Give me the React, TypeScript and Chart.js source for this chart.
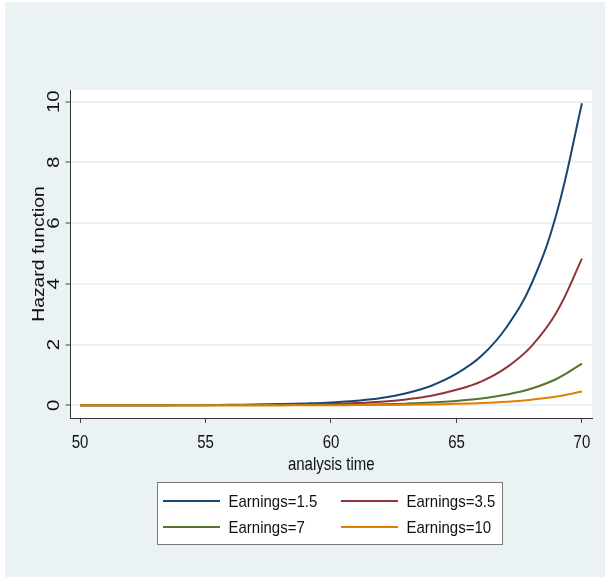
import React, { useEffect, useRef } from "react";
import { Chart, registerables } from "chart.js";

Chart.register(...registerables);

// ---- data ----
const years = [50, 51, 52, 53, 54, 55, 56, 57, 58, 59, 60, 61, 62, 63, 64, 65, 66, 67, 68, 69, 70];
const earnings15 = [0.001, 0.002, 0.003, 0.005, 0.007, 0.011, 0.017, 0.026, 0.04, 0.062, 0.095, 0.15, 0.24, 0.4, 0.645, 1.04, 1.63, 2.58, 4.02, 6.35, 9.95];
const earnings35 = [0.0005, 0.001, 0.0015, 0.0024, 0.0035, 0.0055, 0.008, 0.013, 0.02, 0.03, 0.046, 0.073, 0.117, 0.195, 0.315, 0.51, 0.79, 1.25, 1.96, 3.08, 4.83];
const earnings7 = [0.0001, 0.0002, 0.0004, 0.0007, 0.001, 0.0015, 0.0023, 0.0036, 0.0055, 0.0085, 0.013, 0.021, 0.033, 0.055, 0.09, 0.145, 0.225, 0.355, 0.555, 0.875, 1.37];
const earnings10 = [0.00005, 0.0001, 0.00015, 0.0002, 0.0003, 0.0005, 0.0008, 0.0012, 0.0018, 0.0028, 0.0044, 0.007, 0.011, 0.018, 0.03, 0.048, 0.075, 0.118, 0.185, 0.29, 0.455];

const seriesLabels = ["Earnings=1.5", "Earnings=3.5", "Earnings=7", "Earnings=10"];
const seriesColors = ["#1A476F", "#90353B", "#55752F", "#E37E00"];
const xTicks = [50, 55, 60, 65, 70];
const yTicks = [0, 2, 4, 6, 8, 10];
const xTitle = "analysis time";
const yTitle = "Hazard function";

const FONT = '"Liberation Sans", Arial, Helvetica, sans-serif';
const BG = "#EAF2F3";
const TEXT = "#111111";

function drawText(
  ctx: CanvasRenderingContext2D,
  text: string,
  x: number,
  y: number,
  size: number,
  align: CanvasTextAlign,
  rot: number,
  sx: number,
  sy: number
) {
  ctx.save();
  ctx.translate(x, y);
  if (rot) ctx.rotate(rot);
  ctx.scale(sx, sy);
  ctx.font = `${size}px ${FONT}`;
  ctx.textAlign = align;
  ctx.textBaseline = "alphabetic";
  ctx.fillStyle = TEXT;
  ctx.fillText(text, 0, 0);
  ctx.restore();
}

const stataPlugin = {
  id: "stataLook",
  beforeDraw(chart: any) {
    const { ctx, chartArea: a } = chart;
    ctx.save();
    ctx.fillStyle = "#ffffff";
    ctx.fillRect(a.left, a.top, a.right - a.left, a.bottom - a.top);
    ctx.restore();
  },
  afterDraw(chart: any) {
    const { ctx, chartArea: a } = chart;
    const xs = chart.scales.x;
    const ys = chart.scales.y;
    // x tick labels
    xTicks.forEach((v) => {
      drawText(ctx, String(v), xs.getPixelForValue(v), 446, 15, "center", 0, 1, 1.28);
    });
    // y tick labels (vertical)
    yTicks.forEach((v) => {
      drawText(ctx, String(v), 53.5, ys.getPixelForValue(v), 16, "center", -Math.PI / 2, 1.28, 1);
    });
    // axis titles
    drawText(ctx, xTitle, (a.left + a.right) / 2, 468, 15, "center", 0, 1, 1.19);
    drawText(ctx, yTitle, 38.5, (a.top + a.bottom) / 2, 17, "center", -Math.PI / 2, 1.14, 1);

    // legend box
    const bx = 152, by = 480, bw = 346, bh = 63;
    ctx.save();
    ctx.fillStyle = "#ffffff";
    ctx.fillRect(bx, by, bw, bh);
    ctx.strokeStyle = "#7a7a7a";
    ctx.lineWidth = 1;
    ctx.strokeRect(bx + 0.5, by + 0.5, bw - 1, bh - 1);
    const ds = chart.data.datasets;
    const cols = [{ lx: 158, tx: 223.5 }, { lx: 336, tx: 401.5 }];
    const rows = [{ ly: 499, ty: 505 }, { ly: 525, ty: 531 }];
    ds.forEach((d: any, i: number) => {
      const c = cols[i % 2];
      const r = rows[Math.floor(i / 2)];
      ctx.strokeStyle = d.borderColor;
      ctx.lineWidth = 2;
      ctx.beginPath();
      ctx.moveTo(c.lx, r.ly);
      ctx.lineTo(c.lx + 57, r.ly);
      ctx.stroke();
      drawText(ctx, d.label, c.tx, r.ty, 15, "left", 0, 1, 1.08);
    });
    ctx.restore();
  },
};

export default function App() {
  const ref = useRef<HTMLCanvasElement | null>(null);

  useEffect(() => {
    if (!ref.current) return;
    const seriesValues = [earnings15, earnings35, earnings7, earnings10];
    const chart = new Chart(ref.current, {
      type: "line",
      data: {
        datasets: seriesValues.map((vals, i) => ({
          label: seriesLabels[i],
          data: years.map((x, j) => ({ x, y: vals[j] })),
          borderColor: seriesColors[i],
          backgroundColor: seriesColors[i],
          borderWidth: 2,
          pointRadius: 0,
          fill: false,
          tension: 0.4,
          order: seriesValues.length - 1 - i,
        })),
      },
      options: {
        responsive: false,
        animation: false,
        devicePixelRatio: 1,
        layout: { padding: { left: 60.5, top: 88, right: 13, bottom: 154 } },
        plugins: { legend: { display: false }, tooltip: { enabled: false } },
        scales: {
          x: {
            type: "linear",
            min: 49.62,
            max: 70.4,
            afterBuildTicks: (s: any) => {
              s.ticks = xTicks.map((v) => ({ value: v }));
            },
            ticks: { display: false },
            grid: { drawOnChartArea: false, drawTicks: true, tickLength: 5, tickColor: "#444444", tickWidth: 1 },
            border: { color: "#333333", width: 1 },
          },
          y: {
            type: "linear",
            min: -0.418,
            max: 10.385,
            afterBuildTicks: (s: any) => {
              s.ticks = yTicks.map((v) => ({ value: v }));
            },
            ticks: { display: false },
            grid: { color: BG, lineWidth: 2, drawTicks: true, tickLength: 5, tickColor: "#444444", tickWidth: 1 },
            border: { color: "#333333", width: 1 },
          },
        },
      },
      plugins: [stataPlugin],
    });
    return () => chart.destroy();
  }, []);

  return (
    <div
      style={{
        position: "absolute",
        left: 5,
        top: 2,
        width: 600,
        height: 575,
        background: BG,
      }}
    >
      <canvas ref={ref} width={600} height={575} style={{ display: "block" }} />
    </div>
  );
}
